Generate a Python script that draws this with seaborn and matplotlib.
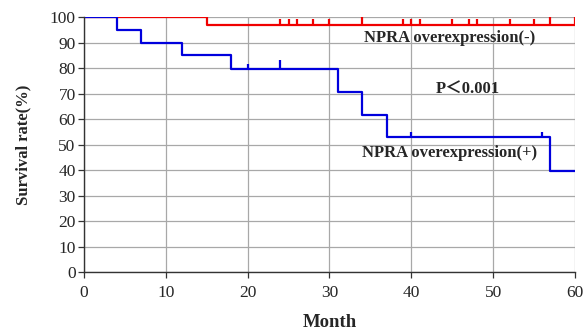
import numpy as np
import pandas as pd
import matplotlib
matplotlib.use('Agg')
import matplotlib.pyplot as plt
import seaborn as sns

# Kaplan-Meier steps
neg_time = [0, 15, 60]
neg_surv = [100, 97, 97]
neg_cens = [24, 25, 26, 28, 30, 34, 39, 40, 41, 45, 47, 48, 52, 55, 57, 60]
neg_tall = [34, 57, 60]

pos_time = [0, 4, 7, 12, 18, 31, 34, 37, 57, 60]
pos_surv = [100, 95, 90, 85, 79.5, 70.5, 61.7, 52.8, 39.6, 39.6]
pos_cens = [20, 24, 40, 56]
pos_tall = [24]

RED = '#f00000'
BLUE = '#0000dd'
SERIF = ['Liberation Serif', 'DejaVu Serif']

sns.set_style('white')
plt.rcParams['font.family'] = SERIF

df = pd.concat([
    pd.DataFrame({'Month': neg_time, 'Survival': neg_surv, 'group': 'neg'}),
    pd.DataFrame({'Month': pos_time, 'Survival': pos_surv, 'group': 'pos'}),
])

fig = plt.figure(figsize=(5.84, 3.31), dpi=100)
ax = fig.add_axes([0.1438, 0.178, 0.8408, 0.7706])

sns.lineplot(data=df[df.group == 'neg'], x='Month', y='Survival', color=RED,
             drawstyle='steps-post', estimator=None, linewidth=1.6, ax=ax)
sns.lineplot(data=df[df.group == 'pos'], x='Month', y='Survival', color=BLUE,
             drawstyle='steps-post', estimator=None, linewidth=1.6, ax=ax)


def step_at(times, surv, t):
    idx = np.searchsorted(times, t, side='right') - 1
    return np.array(surv)[idx]


for cens, tall, times, surv, col in [(neg_cens, neg_tall, neg_time, neg_surv, RED),
                                     (pos_cens, pos_tall, pos_time, pos_surv, BLUE)]:
    ys = step_at(np.array(times), surv, np.array(cens))
    hs = np.array([3.8 if c in tall else 2.2 for c in cens])
    ax.vlines(cens, ys, ys + hs, color=col, linewidth=1.6)

ax.set_xlim(0, 60)
ax.set_ylim(0, 100)
ax.set_xticks(range(0, 61, 10))
ax.set_yticks(range(0, 101, 10))
ax.grid(True, color='#a8a8a8', linewidth=0.9)
ax.set_axisbelow(True)
for s in ['top', 'right']:
    ax.spines[s].set_visible(False)
for s in ['left', 'bottom']:
    ax.spines[s].set_color('#333333')
    ax.spines[s].set_linewidth(1.0)
ax.tick_params(axis='both', direction='out', length=4, width=0.9, color='#333333',
               labelsize=12.5, left=True, bottom=True)
ax.tick_params(axis='y', pad=2)
ax.tick_params(axis='x', pad=5)

ax.set_xlabel('Month', fontsize=13.5, fontweight='bold', labelpad=10)
ax.set_ylabel('Survival rate(%)', fontsize=12, fontweight='bold', labelpad=13)

ax.text(44.7, 91.8, 'NPRA overexpression(-)', fontsize=12, fontweight='bold',
        ha='center', va='center')
ax.text(46.9, 71.4, 'P＜0.001', fontsize=12, fontweight='bold', ha='center',
        va='center', family=['Liberation Serif', 'Noto Sans CJK SC'])
ax.text(44.7, 46.7, 'NPRA overexpression(+)', fontsize=12, fontweight='bold',
        ha='center', va='center')

fig.savefig('out.png', dpi=100)
